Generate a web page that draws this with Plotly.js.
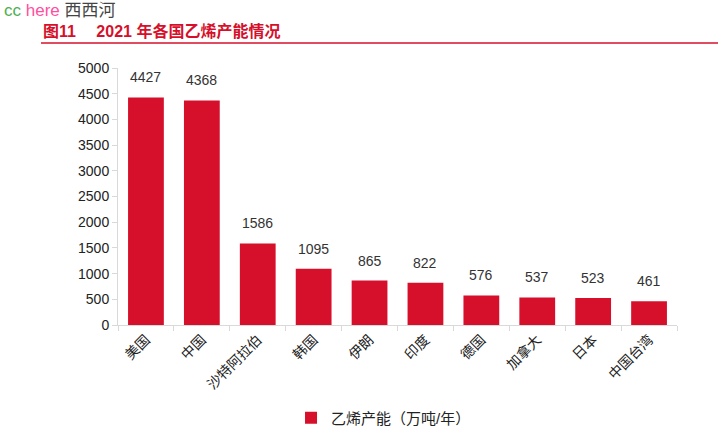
<!DOCTYPE html>
<html><head><meta charset="utf-8">
<script src="https://cdn.plot.ly/plotly-3.0.1.min.js"></script>
<style>html,body{margin:0;padding:0;background:#fff;}#chart{width:718px;height:431px;}</style>
</head><body><div id="chart"></div>
<script>
const categories = ['美国','中国','沙特阿拉伯','韩国','伊朗','印度','德国','加拿大','日本','中国台湾'];
const capacity = [4427,4368,1586,1095,865,822,576,537,523,461];
const seriesName = '乙烯产能（万吨/年）';
const yTicks = [0,500,1000,1500,2000,2500,3000,3500,4000,4500,5000];

const L=118, R=677, T=68, B=325;
const W=R-L, H=B-T;
const px = x => (x-L)/W;
const py = y => (B-y)/H;
const font = '"Liberation Sans", "Noto Sans CJK SC", Arial, sans-serif';

const trace = {
  type:'bar', x:categories, y:capacity, name:seriesName,
  marker:{color:'#D6102B'},
  cliponaxis:false, showlegend:true
};

const valueLabels = categories.map((c,i)=>({
  x:c, y:capacity[i], xref:'x', yref:'y', text:String(capacity[i]), showarrow:false,
  yanchor:'bottom', yshift:10, font:{size:14, color:'#333', family:font}
}));

const layout = {
  width:718, height:431,
  margin:{l:L, r:718-R, t:T, b:431-B, autoexpand:false},
  paper_bgcolor:'#fff', plot_bgcolor:'#fff',
  font:{family:font, color:'#333'},
  bargap:0.36,
  xaxis:{type:'category', tickangle:-45, tickfont:{size:14, color:'#222'}, automargin:false,
    showline:true, linecolor:'#d9d9d9', ticks:'outside', tickson:'boundaries', ticklen:5, tickcolor:'#d9d9d9', showgrid:false, zeroline:false},
  yaxis:{range:[0,5000], tickvals:yTicks, ticktext:yTicks.map(String), tickfont:{size:14, color:'#222'}, automargin:false,
    showline:true, linecolor:'#d9d9d9', ticks:'outside', ticklen:5, tickcolor:'#d9d9d9', showgrid:false, zeroline:false},
  showlegend:true,
  legend:{orientation:'h', x:0.475, xanchor:'center', y:py(418), yanchor:'middle', font:{size:15, color:'#222'}, itemwidth:30},
  shapes:[{type:'line', xref:'paper', yref:'paper', x0:px(41), x1:px(718), y0:py(43), y1:py(43), line:{color:'#D6102B', width:1.5}}],
  annotations:[
    {xref:'paper', yref:'paper', x:px(2), y:py(11), xanchor:'left', yanchor:'middle', showarrow:false,
     text:'<span style="color:#4CAF50">cc</span> <span style="color:#FF4FA0">here</span> <span style="color:#444">西西河</span>', font:{size:17, family:font}},
    {xref:'paper', yref:'paper', x:px(41), y:py(31), xanchor:'left', yanchor:'middle', showarrow:false,
     text:'<b>图11　 2021 年各国乙烯产能情况</b>', font:{size:16, color:'#D6102B', family:font}}
  ].concat(valueLabels)
};
Plotly.newPlot('chart',[trace],layout,{displayModeBar:false, staticPlot:true});
</script></body></html>
